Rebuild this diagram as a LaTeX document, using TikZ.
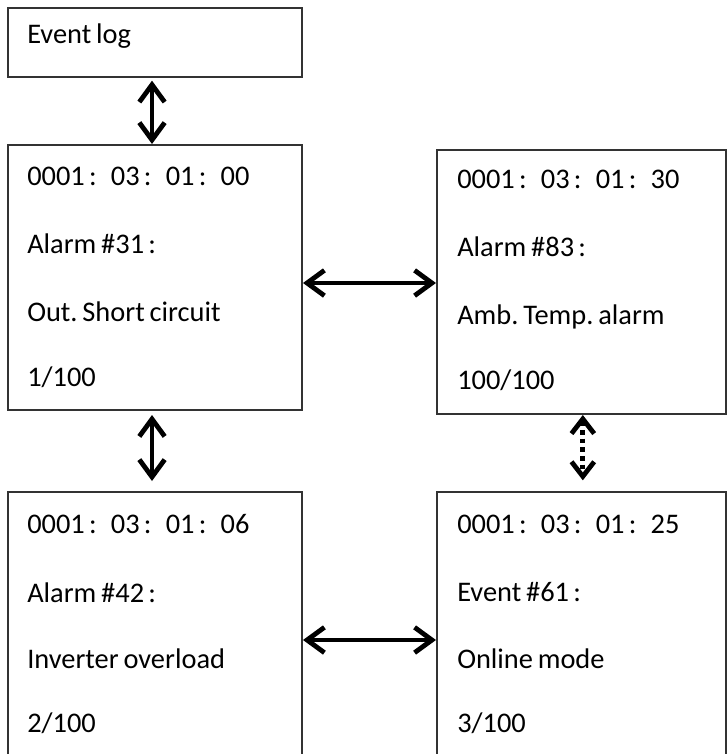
\documentclass[tikz,border=0pt]{standalone}
\usepackage{fontspec}
\setmainfont{Carlito}[WordSpace=0.75]
\usetikzlibrary{arrows.meta}
\frenchspacing
\tikzset{
  box/.style={draw=black!80, line width=1.5pt, rectangle, inner sep=0pt},
  txt/.style={anchor=base west, inner sep=0pt, font=\fontsize{21.3}{25}\selectfont},
  barb/.tip={Straight Barb[length=13pt,width=19pt,line width=3.6pt]},
  dbl/.style={line width=3.6pt, barb-barb},
  dotdbl/.style={line width=3.6pt, dash pattern=on 3.5pt off 3pt, {Straight Barb[length=11pt,width=17pt,line width=3.6pt]}-{Straight Barb[length=11pt,width=17pt,line width=3.6pt]}}
}
\newcommand{\tstamp}[1]{0001\hspace{0.15em}:\hspace{0.5em}03\hspace{0.15em}:\hspace{0.5em}01\hspace{0.15em}:\hspace{0.5em}#1}
\begin{document}
\begin{tikzpicture}[x=0.75pt,y=-0.75pt]
\clip (0,0) rectangle (728,754);
\fill[white] (0,0) rectangle (728,754);
% boxes
\node[box, minimum width=220.5pt, minimum height=51.75pt] (log) at (155,42.5) {};
\node[box, minimum width=220.5pt, minimum height=198.75pt] (a) at (155,277.5) {};
\node[box, minimum width=216.75pt, minimum height=198pt] (b) at (581.5,282) {};
\node[box, minimum width=220.5pt, minimum height=225pt] (c) at (155,642) {};
\node[box, minimum width=216.75pt, minimum height=225pt] (d) at (581.5,642) {};
% texts
\node[txt] (t0) at (27,43) {Event log};
\node[txt] (a1) at (27,185) {\tstamp{00}};
\node[txt] (a2) at (27,253) {Alarm \#31\hspace{0.15em}:};
\node[txt] (a3) at (27,321) {Out. Short circuit};
\node[txt] (a4) at (27,386) {1/100};
\node[txt] (b1) at (457,188) {\tstamp{30}};
\node[txt] (b2) at (457,256) {Alarm \#83\hspace{0.15em}:};
\node[txt] (b3) at (457,324) {Amb. Temp. alarm};
\node[txt] (b4) at (457,389) {100/100};
\node[txt] (c1) at (27,533) {\tstamp{06}};
\node[txt] (c2) at (27,602) {Alarm \#42\hspace{0.15em}:};
\node[txt] (c3) at (27,668) {Inverter overload};
\node[txt] (c4) at (27,732) {2/100};
\node[txt] (d1) at (457,533) {\tstamp{25}};
\node[txt] (d2) at (457,601) {Event \#61\hspace{0.15em}:};
\node[txt] (d3) at (457,668) {Online mode};
\node[txt] (d4) at (457,732) {3/100};
% connectors
\draw[dbl, shorten <=2pt] ([xshift=-2.25pt]log.south) -- ([xshift=-2.25pt]a.north);
\draw[dbl] ([yshift=-4.125pt]a.east) -- ([yshift=-0.75pt]b.west);
\draw[dbl, shorten <=3pt, shorten >=7.5pt] ([xshift=-2.25pt]a.south) -- ([xshift=-2.25pt]c.north);
\draw[dotdbl, shorten >=8pt] ([xshift=1pt]b.south) -- ([xshift=1pt]d.north);
\draw[dbl] ([yshift=1.5pt]c.east) -- ([yshift=1.5pt]d.west);
\end{tikzpicture}
\end{document}
